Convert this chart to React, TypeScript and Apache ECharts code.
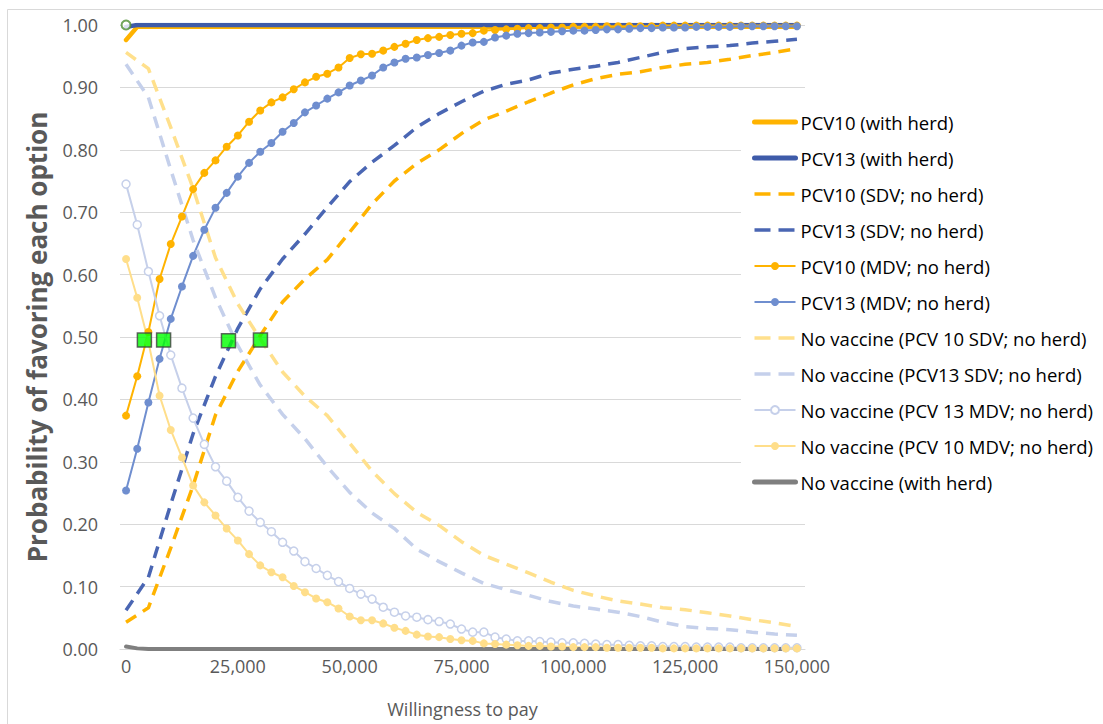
import React, { useEffect, useRef } from "react";
import * as echarts from "echarts";

// x grids (willingness to pay)
const xFine = [
  0, 2500, 5000, 7500, 10000, 12500, 15000, 17500, 20000, 22500, 25000, 27500, 30000, 32500, 35000, 37500,
  40000, 42500, 45000, 47500, 50000, 52500, 55000, 57500, 60000, 62500, 65000, 67500, 70000, 72500, 75000,
  77500, 80000, 82500, 85000, 87500, 90000, 92500, 95000, 97500, 100000, 102500, 105000, 107500, 110000,
  112500, 115000, 117500, 120000, 122500, 125000, 127500, 130000, 132500, 135000, 137500, 140000, 142500,
  145000, 147500, 150000,
];
const xCoarse = [
  0, 5000, 10000, 15000, 20000, 25000, 30000, 35000, 40000, 45000, 50000, 55000, 60000, 65000, 70000, 75000,
  80000, 85000, 90000, 95000, 100000, 105000, 110000, 115000, 120000, 125000, 130000, 135000, 140000, 145000,
  150000,
];
const xHerd = [0, 2500, 5000, 150000];
const xNoVacHerd = [0, 2500, 5000, 147500];
const xTicks = [0, 25000, 50000, 75000, 100000, 125000, 150000];

// series values
const pcv10Herd = [0.976, 0.997, 0.997, 0.997];
const pcv13Herd = [0.997, 1, 1, 1];
const noVacHerd = [0.004, 0.001, 0, 0];

const pcv10SDV = [
  0.043, 0.066, 0.162, 0.262, 0.375, 0.445, 0.502, 0.556, 0.593, 0.624, 0.668, 0.713, 0.75, 0.778, 0.8, 0.826,
  0.848, 0.862, 0.877, 0.891, 0.904, 0.914, 0.921, 0.925, 0.932, 0.937, 0.94, 0.945, 0.951, 0.956, 0.962,
];
const pcv13SDV = [
  0.062, 0.115, 0.232, 0.345, 0.437, 0.514, 0.577, 0.625, 0.665, 0.708, 0.749, 0.78, 0.807, 0.836, 0.858, 0.877,
  0.894, 0.905, 0.912, 0.923, 0.929, 0.934, 0.94, 0.948, 0.956, 0.962, 0.965, 0.967, 0.971, 0.974, 0.977,
];
const noVac10SDV = [
  0.956, 0.93, 0.836, 0.738, 0.627, 0.553, 0.497, 0.444, 0.405, 0.374, 0.33, 0.285, 0.249, 0.219, 0.198, 0.172,
  0.15, 0.136, 0.122, 0.107, 0.094, 0.085, 0.077, 0.072, 0.066, 0.063, 0.058, 0.053, 0.047, 0.042, 0.036,
];
const noVac13SDV = [
  0.937, 0.884, 0.768, 0.655, 0.563, 0.486, 0.423, 0.376, 0.337, 0.292, 0.251, 0.218, 0.193, 0.16, 0.14, 0.122,
  0.105, 0.095, 0.086, 0.076, 0.069, 0.064, 0.059, 0.052, 0.043, 0.036, 0.033, 0.031, 0.027, 0.024, 0.022,
];

const pcv10MDV = [
  0.374, 0.437, 0.508, 0.593, 0.649, 0.693, 0.737, 0.763, 0.783, 0.805, 0.823, 0.845, 0.863, 0.876, 0.884,
  0.897, 0.908, 0.917, 0.922, 0.932, 0.947, 0.953, 0.954, 0.959, 0.965, 0.97, 0.976, 0.979, 0.981, 0.984,
  0.986, 0.987, 0.991, 0.992, 0.993, 0.994, 0.995, 0.995, 0.996, 0.996, 0.997, 0.997, 0.997, 0.998, 0.998,
  0.998, 0.998, 0.998, 0.999, 0.999, 0.999, 0.999, 0.999, 0.999, 0.999, 0.999, 0.999, 0.999, 0.999, 0.999,
  0.999,
];
const pcv13MDV = [
  0.254, 0.321, 0.395, 0.465, 0.529, 0.581, 0.63, 0.672, 0.707, 0.731, 0.757, 0.779, 0.797, 0.811, 0.829,
  0.843, 0.86, 0.871, 0.882, 0.892, 0.903, 0.911, 0.919, 0.932, 0.94, 0.946, 0.948, 0.952, 0.955, 0.959,
  0.967, 0.972, 0.973, 0.98, 0.983, 0.986, 0.987, 0.988, 0.989, 0.99, 0.991, 0.991, 0.992, 0.993, 0.993,
  0.994, 0.995, 0.995, 0.996, 0.996, 0.996, 0.997, 0.997, 0.997, 0.997, 0.998, 0.998, 0.998, 0.998, 0.998,
  0.998,
];
const noVac13MDV = [
  0.745, 0.68, 0.605, 0.534, 0.471, 0.418, 0.37, 0.328, 0.292, 0.269, 0.243, 0.221, 0.203, 0.188, 0.171,
  0.157, 0.14, 0.129, 0.118, 0.108, 0.097, 0.088, 0.08, 0.067, 0.059, 0.053, 0.051, 0.047, 0.044, 0.04,
  0.032, 0.027, 0.027, 0.019, 0.016, 0.013, 0.013, 0.012, 0.011, 0.01, 0.01, 0.009, 0.008, 0.007, 0.007,
  0.006, 0.005, 0.005, 0.004, 0.004, 0.004, 0.003, 0.003, 0.003, 0.003, 0.002, 0.002, 0.002, 0.002, 0.002,
  0.002,
];
const noVac10MDV = [
  0.625, 0.563, 0.492, 0.406, 0.351, 0.307, 0.262, 0.235, 0.214, 0.193, 0.174, 0.152, 0.134, 0.123, 0.115,
  0.101, 0.091, 0.081, 0.075, 0.065, 0.052, 0.046, 0.046, 0.041, 0.034, 0.029, 0.023, 0.02, 0.019, 0.016,
  0.014, 0.013, 0.009, 0.008, 0.007, 0.006, 0.005, 0.005, 0.004, 0.004, 0.003, 0.003, 0.003, 0.002, 0.002,
  0.002, 0.002, 0.002, 0.001, 0.001, 0.001, 0.001, 0.001, 0.001, 0.001, 0.001, 0.001, 0.001, 0.001, 0.001,
  0.001,
];

// highlighted points
const crossX = [4100, 8400, 22900, 30050];
const crossY = [0.495, 0.495, 0.494, 0.495];
const startX = [0];
const startY = [1.0];

const names = [
  "PCV10 (with herd)",
  "PCV13 (with herd)",
  "PCV10 (SDV; no herd)",
  "PCV13 (SDV; no herd)",
  "PCV10 (MDV; no herd)",
  "PCV13 (MDV; no herd)",
  "No vaccine (PCV 10 SDV; no herd)",
  "No vaccine (PCV13 SDV; no herd)",
  "No vaccine (PCV 13 MDV; no herd)",
  "No vaccine (PCV 10 MDV; no herd)",
  "No vaccine (with herd)",
];

const pairs = (xs: number[], ys: number[]) => xs.map((x, i) => [x, ys[i]]);

const FONT = "Open Sans";

export default function App() {
  const ref = useRef<HTMLDivElement>(null);
  useEffect(() => {
    if (!ref.current) return;
    const chart = echarts.init(ref.current, null, { renderer: "svg" });

    const lineSeries = (
      name: string,
      xs: number[],
      ys: number[],
      color: string,
      width: number,
      dashed: boolean,
      marker: null | { fill: string; border: string },
      cap: string = "butt"
    ) => ({
      type: "line",
      name,
      data: pairs(xs, ys),
      color,
      symbol: marker ? "circle" : "none",
      showSymbol: !!marker,
      showAllSymbol: true,
      symbolSize: 8,
      itemStyle: marker
        ? { color: marker.fill, borderColor: marker.border, borderWidth: marker.fill === "#ffffff" ? 1.5 : 0 }
        : { color },
      lineStyle: { color, width, type: dashed ? [12, 8] : "solid", cap },
      emphasis: { disabled: true },
      silent: true,
    });

    const C10 = "#FFB300";
    const C13H = "#3E5BA9";
    const C13S = "#4A66B3";
    const C13M = "#6F8ECF";
    const NV10S = "#FFE08C";
    const NV13S = "#C5D0EB";
    const NV13M = "#C6D0EA";
    const NV10M = "#FFDE8A";
    const GREY = "#7F7F7F";

    const series: any[] = [
      lineSeries(names[0], xHerd, pcv10Herd, C10, 4.5, false, null, "round"),
      lineSeries(names[1], xHerd, pcv13Herd, C13H, 4.5, false, null, "round"),
      lineSeries(names[2], xCoarse, pcv10SDV, C10, 3.5, true, null),
      lineSeries(names[3], xCoarse, pcv13SDV, C13S, 3.5, true, null),
      lineSeries(names[4], xFine, pcv10MDV, C10, 2, false, { fill: C10, border: C10 }),
      lineSeries(names[5], xFine, pcv13MDV, C13M, 2, false, { fill: C13M, border: C13M }),
      lineSeries(names[6], xCoarse, noVac10SDV, NV10S, 3.5, true, null),
      lineSeries(names[7], xCoarse, noVac13SDV, NV13S, 3.5, true, null),
      lineSeries(names[8], xFine, noVac13MDV, NV13M, 2, false, { fill: "#ffffff", border: NV13M }),
      lineSeries(names[9], xFine, noVac10MDV, NV10M, 2, false, { fill: NV10M, border: NV10M }),
      lineSeries(names[10], xNoVacHerd, noVacHerd, GREY, 4, false, null, "round"),
      {
        type: "scatter",
        name: "start",
        data: pairs(startX, startY),
        symbol: "circle",
        symbolSize: 9,
        itemStyle: { color: "#ffffff", borderColor: "#4E8F2F", borderWidth: 2 },
        silent: true,
        z: 5,
      },
      {
        type: "scatter",
        name: "crossings",
        data: pairs(crossX, crossY),
        symbol: "rect",
        symbolSize: 14,
        itemStyle: { color: "#00FF00", borderColor: "#404040", borderWidth: 1.5 },
        silent: true,
        z: 5,
      },
    ];

    const legendData = names.map((name, i) => {
      const dashed = i === 2 || i === 3 || i === 6 || i === 7;
      const hasMarker = i === 4 || i === 5 || i === 8 || i === 9;
      const width = i === 0 || i === 1 || i === 10 ? 5 : dashed ? 3.5 : 2;
      const item: any = {
        name,
        lineStyle: { width, type: dashed ? [16, 8] : "solid" },
      };
      if (!hasMarker) item.itemStyle = { opacity: 0 };
      return item;
    });

    chart.setOption({
      animation: false,
      backgroundColor: "#ffffff",
      textStyle: { fontFamily: FONT },
      grid: { left: 120, right: 298, top: 25, bottom: 75 },
      xAxis: {
        type: "value",
        min: -1350,
        max: 151800,
        name: "Willingness to pay",
        nameLocation: "middle",
        nameGap: 51,
        nameTextStyle: { fontSize: 18, color: "#595959", fontFamily: FONT },
        axisLine: { show: true, lineStyle: { color: "#D9D9D9" } },
        axisTick: { show: false },
        splitLine: { show: false },
        axisLabel: {
          customValues: xTicks,
          fontSize: 18,
          color: "#595959",
          margin: 8,
          fontFamily: FONT,
          formatter: (v: number) => String(v).replace(/\B(?=(\d{3})+(?!\d))/g, ","),
        },
      },
      yAxis: {
        type: "value",
        min: 0,
        max: 1,
        interval: 0.1,
        name: "Probability of favoring each option",
        nameLocation: "middle",
        nameGap: 70,
        nameTextStyle: { fontSize: 26, fontWeight: "bold", color: "#595959", fontFamily: FONT },
        axisLine: { show: false },
        axisTick: { show: false },
        splitLine: { show: true, lineStyle: { color: "#D9D9D9", width: 1 } },
        axisLabel: {
          fontSize: 18,
          color: "#595959",
          margin: 22,
          fontFamily: FONT,
          formatter: (v: number) => v.toFixed(2),
        },
      },
      legend: {
        orient: "vertical",
        left: 741,
        top: 104,
        padding: [8, 10, 8, 11],
        backgroundColor: "#ffffff",
        itemWidth: 41,
        itemHeight: 10,
        itemGap: 16,
        selectedMode: false,
        textStyle: { fontSize: 18.5, color: "#000000", lineHeight: 20, fontFamily: FONT },
        data: legendData,
      },
      graphic: [
        {
          type: "rect",
          left: 5,
          top: 7,
          shape: { width: 1200, height: 800 },
          style: { fill: "none", stroke: "#D9D9D9", lineWidth: 1 },
          silent: true,
          z: -10,
        },
      ],
      series,
    });

    return () => chart.dispose();
  }, []);

  return (
    <div
      ref={ref}
      style={{ position: "fixed", left: 0, top: 0, width: 1103, height: 724, background: "#fff" }}
    />
  );
}
